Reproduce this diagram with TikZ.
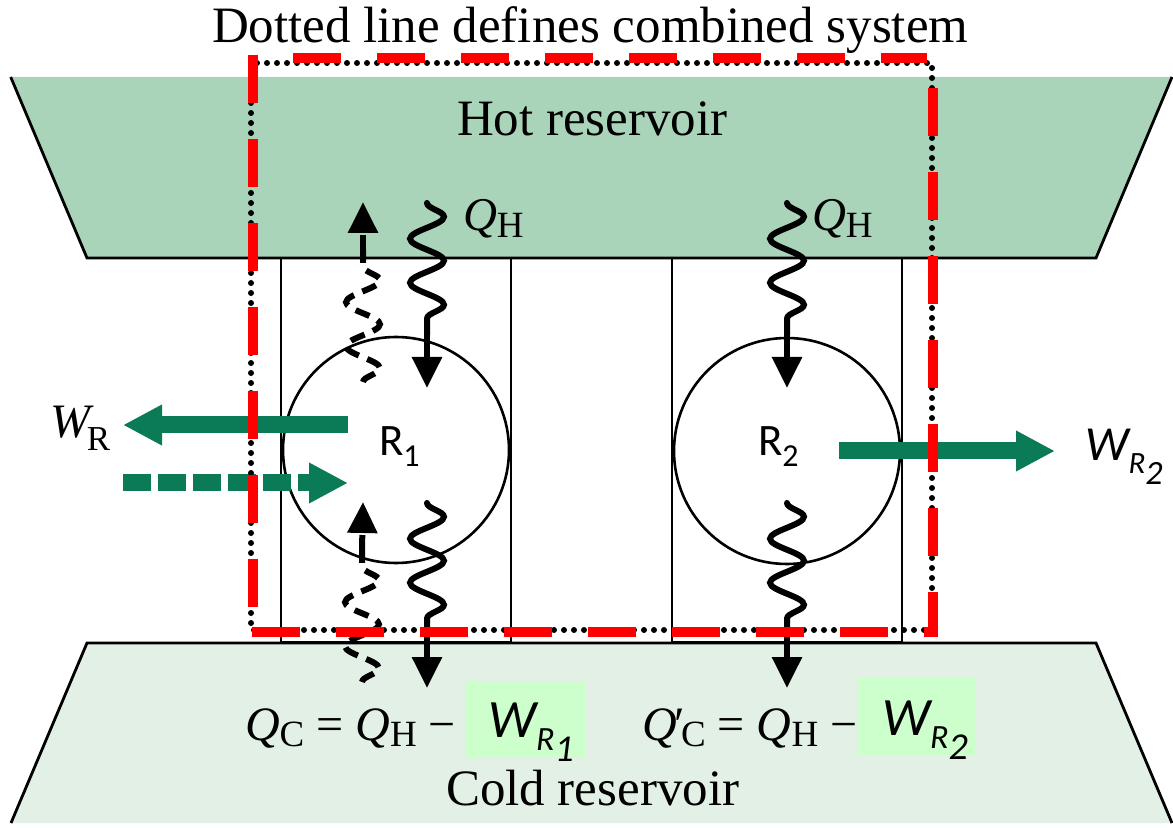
\documentclass[tikz,border=0pt]{standalone}
\usepackage{fontspec}
\setmainfont{Liberation Serif}
\newfontfamily\calib{Carlito}
\usetikzlibrary{arrows.meta,decorations.pathmorphing}
\definecolor{hotc}{HTML}{AAD4B9}
\definecolor{coldc}{HTML}{E3F0E5}
\definecolor{arrg}{HTML}{0B7A56}
\definecolor{boxg}{HTML}{CCFFCC}
\definecolor{redd}{HTML}{FF0000}
\newcommand\fs[1]{\fontsize{#1}{#1}\selectfont}
\tikzset{
  every node/.style={inner sep=0pt, outer sep=0pt},
  resline/.style={line width=1.4pt, line join=miter},
  engbox/.style={draw, line width=1pt},
  engine/.style={circle, draw, line width=1.3pt, minimum size=113pt, inner sep=0pt},
  wave/.style={line width=3pt, line cap=round, decorate, decoration={snake, amplitude=8.5pt, segment length=22pt}},
  dwave/.style={line width=3pt, dash pattern=on 7.5pt off 4.5pt, decorate, decoration={snake, amplitude=8.5pt, segment length=22pt, mirror}},
  heathead/.style={line width=3pt, -{Triangle[length=15.5pt,width=14.5pt]}},
  garrow/.style={draw=arrg, line width=8.5pt, -{Triangle[length=19.5pt,width=19pt]}},
  gdarrow/.style={garrow, dash pattern=on 14pt off 3.5pt},
  dotline/.style={line width=3pt, line cap=round, dash pattern=on 0pt off 5pt},
  redline/.style={draw=redd, line width=5pt, dash pattern=on 24pt off 18pt},
  lbl/.style={anchor=base west},
}
\begin{document}
\begin{tikzpicture}[x=0.5pt,y=-0.5pt]
\useasboundingbox (0,0) rectangle (1173,828);
% reservoirs
\fill[hotc] (10.7,77) -- (1172,77) -- (1096,258) -- (87,258) -- cycle;
\draw[resline] (10.7,77) -- (87,258) -- (1096,258) -- (1172,77);
\fill[coldc] (87,643) -- (1096,643) -- (1172,823) -- (11,823) -- cycle;
\draw[resline] (11,823) -- (87,643) -- (1096,643) -- (1172,823);
% engine boxes
\draw[engbox] (281,258) rectangle (511,642);
\draw[engbox] (672,258) rectangle (902,642);
\node[engine] (R1) at (396,450) {};
\node[engine] (R2) at (787,451) {};
\node[lbl] (r1l) at (379,456) {\calib\fs{22.5pt}R\raisebox{-5.5pt}{\fs{16pt}1}};
\node[lbl] (r2l) at (758,456) {\calib\fs{22.5pt}R\raisebox{-5.5pt}{\fs{16pt}2}};
% heat coordinates
\coordinate (a1) at (427,203); \coordinate (a2) at (427,335); \coordinate (a3) at (427,388);
\coordinate (b1) at (427,503); \coordinate (b2) at (427,635); \coordinate (b3) at (427,688);
\coordinate (c1) at (787,203); \coordinate (c2) at (787,335); \coordinate (c3) at (787,388);
\coordinate (d1) at (787,503); \coordinate (d2) at (787,635); \coordinate (d3) at (787,688);
\coordinate (e1) at (363,382); \coordinate (e2) at (363,250); \coordinate (e3) at (363,202);
\coordinate (f1) at (362,682); \coordinate (f2) at (362,550); \coordinate (f3) at (363,502);
\draw[wave] (a1) -- (a2); \draw[heathead] (a2) -- (a3);
\draw[wave] (b1) -- (b2); \draw[heathead] (b2) -- (b3);
\draw[wave] (c1) -- (c2); \draw[heathead] (c2) -- (c3);
\draw[wave] (d1) -- (d2); \draw[heathead] (d2) -- (d3);
\draw[dwave] (e1) -- (e2); \draw[heathead, dash pattern=on 7.5pt off 4.5pt] (e2) -- (e3);
\draw[dwave] (f1) -- (f2); \draw[heathead, dash pattern=on 7.5pt off 4.5pt] (f2) -- (f3);
% work arrows
\coordinate (wr1) at (348,425); \coordinate (wr0) at (123,425);
\coordinate (wd0) at (123,483); \coordinate (wd1) at (348,483);
\coordinate (w20) at (839,451); \coordinate (w21) at (1055,451);
\draw[garrow] (wr1) -- (wr0);
\draw[gdarrow] (wd0) -- (wd1);
\draw[garrow] (w20) -- (w21);
% labels
\node[lbl] (title) at (212,43) {\fs{25.5pt}Dotted line defines combined system};
\node[lbl] (hot) at (457,136) {\fs{25.5pt}Hot reservoir};
\node[lbl] (cold) at (446,805) {\fs{25.5pt}Cold reservoir};
\node[lbl] (qh1) at (463,231) {\fs{23.5pt}\itshape Q\upshape\raisebox{-3.5pt}{\fs{18.5pt}H}};
\node[lbl] (qh2) at (812,231) {\fs{23.5pt}\itshape Q\upshape\raisebox{-3.5pt}{\fs{18.5pt}H}};
\node[lbl] (wrl) at (50,438) {\fs{24pt}\itshape W\upshape\kern-1.5pt\raisebox{-6pt}{\fs{17.5pt}R}};
\node[lbl] (w2l) at (1085,461) {\calib\itshape\fs{24.5pt}W\raisebox{-6.5pt}{\fs{15.5pt}R\raisebox{-5.5pt}{\fs{17pt}2}}};
\node[lbl] (qc1) at (245,740) {\fs{24pt}\itshape Q\upshape\raisebox{-3pt}{\fs{18.5pt}C} = \itshape Q\upshape\raisebox{-3pt}{\fs{18.5pt}H} −};
\node[lbl] (qc2) at (642,740) {\fs{24pt}\itshape Q\upshape\kern-1pt{\fs{24pt}′}\kern-2pt\raisebox{-3pt}{\fs{18.5pt}C} = \itshape Q\upshape\raisebox{-3pt}{\fs{18.5pt}H} −};
\fill[boxg] (465,682) rectangle (586,758);
\fill[boxg] (857,677) rectangle (976,755);
\node[lbl] (wb1) at (488,737) {\calib\itshape\fs{27pt}W\raisebox{-6.5pt}{\fs{17pt}R\raisebox{-5.5pt}{\fs{19pt}1}}};
\node[lbl] (wb2) at (882,735) {\calib\itshape\fs{27pt}W\raisebox{-6.5pt}{\fs{17pt}R\raisebox{-5.5pt}{\fs{19pt}2}}};
% dotted system boundary
\draw[dotline] (251,63) rectangle (932,630);
% red dashed boundary
\draw[redline] (252.6,55) -- (252.6,632);
\draw[redline] (252,632) -- (933,632);
\draw[redline] (933,88) -- (933,637);
\draw[redline] (293,58) -- (927,58);
\end{tikzpicture}
\end{document}
